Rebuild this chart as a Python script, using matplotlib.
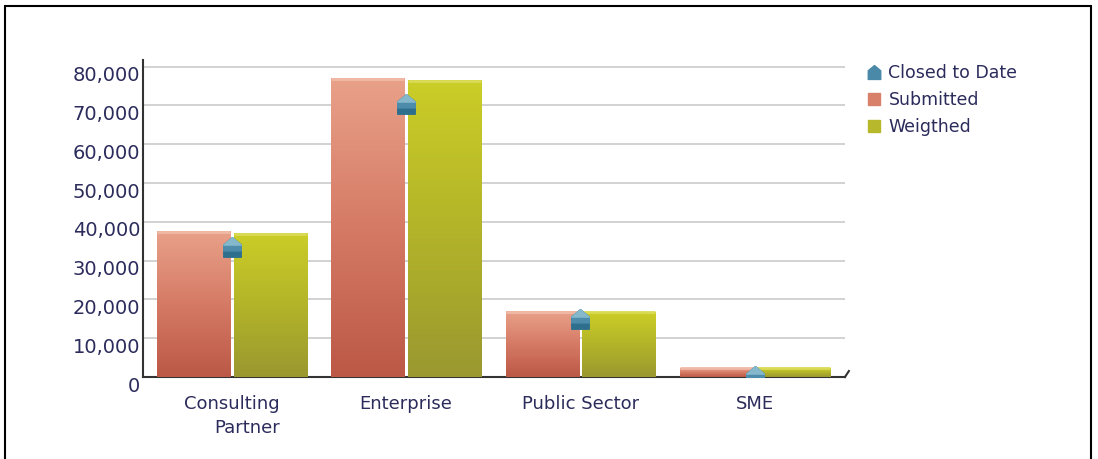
import numpy as np
import matplotlib
matplotlib.use("Agg")
import matplotlib.pyplot as plt
from matplotlib.colors import LinearSegmentedColormap
from matplotlib.lines import Line2D
from matplotlib.path import Path
from matplotlib.patches import Rectangle
import matplotlib.transforms as mtransforms

categories = ["Consulting\nPartner", "Enterprise", "Public Sector", "SME"]
submitted = [37400, 76900, 16800, 2300]
weighted = [36900, 76400, 16700, 2300]
closed_to_date = [33600, 70300, 15000, 200]

text_color = "#2b2b5c"
# house-shaped marker: dark body, mid band and a lighter roof on top
house = Path([(-0.9, -1), (0.9, -1), (0.9, 0.25), (0, 1), (-0.9, 0.25), (-0.9, -1)],
             [Path.MOVETO] + [Path.LINETO] * 4 + [Path.CLOSEPOLY])
band = Path([(-0.9, -0.35), (0.9, -0.35), (0.9, 0.25), (0, 1), (-0.9, 0.25), (-0.9, -0.35),
             (0, -1)],
            [Path.MOVETO] + [Path.LINETO] * 4 + [Path.CLOSEPOLY, Path.MOVETO])
roof = Path([(-0.9, 0.25), (0.9, 0.25), (0, 1), (-0.9, 0.25), (0, -1)],
            [Path.MOVETO, Path.LINETO, Path.LINETO, Path.CLOSEPOLY, Path.MOVETO])

fig = plt.figure(figsize=(10.98, 4.59), dpi=100)
ax = fig.add_axes([0.1302, 0.1786, 0.6393, 0.6906])

x = np.arange(len(categories))
width = 0.42
offset = 0.22

sub_bars = ax.bar(x - offset, submitted, width, color="#d9806a", zorder=2)
wgt_bars = ax.bar(x + offset, weighted, width, color="#b8b82c", zorder=2)

sub_cmap = LinearSegmentedColormap.from_list("sub", ["#bb5846", "#d57a65", "#e9a189"])
wgt_cmap = LinearSegmentedColormap.from_list("wgt", ["#9a9830", "#b3b429", "#cbcd27"])
grad = np.linspace(0, 1, 256).reshape(-1, 1)

for bars, cmap, cap in ((sub_bars, sub_cmap, "#f0b9a6"), (wgt_bars, wgt_cmap, "#d9da55")):
    for b in bars:
        x0, w, h = b.get_x(), b.get_width(), b.get_height()
        ax.imshow(grad, cmap=cmap, origin="lower", aspect="auto",
                  extent=[x0, x0 + w, 0, h], zorder=3)
        ax.plot([x0, x0 + w], [h, h], color=cap, lw=2, zorder=4,
                solid_capstyle="butt")

for path, col, z in ((house, "#2f6f8e", 5), (band, "#4d8dab", 6), (roof, "#86b8cc", 7)):
    ax.plot(x, closed_to_date, linestyle="none", marker=path, markersize=14,
            color=col, zorder=z)

ax.set_xlim(-0.51, 3.517)
ax.set_ylim(0, 81700)
ax.set_yticks(np.arange(0, 80001, 10000))
ax.set_yticklabels([f"{v:,}" for v in range(0, 80001, 10000)])
ax.set_xticks(x)
ax.set_xticklabels(categories, multialignment="right", linespacing=1.45)
ax.yaxis.grid(True, color="#d2d2d2", lw=1.4, zorder=0)
ax.set_axisbelow(True)

for side in ("top", "right"):
    ax.spines[side].set_visible(False)
for side in ("left", "bottom"):
    ax.spines[side].set_color("#333333")
    ax.spines[side].set_linewidth(1.5)
ax.plot([1, 1 + 4 / 702], [0, 6 / 317], transform=ax.transAxes,
        color="#333333", lw=1.5, clip_on=False)

ax.tick_params(axis="y", length=0, pad=2, labelsize=14, labelcolor=text_color)
ax.tick_params(axis="x", length=0, pad=13, labelsize=13, labelcolor=text_color)
shift = mtransforms.ScaledTranslation(0, -7 / 100, fig.dpi_scale_trans)
for lbl in ax.get_yticklabels():
    lbl.set_transform(lbl.get_transform() + shift)

handles = [
    Line2D([], [], linestyle="none", marker=house, markersize=10, color="#4a8aa8"),
    Line2D([], [], linestyle="none", marker="s", markersize=9, color="#d9806a"),
    Line2D([], [], linestyle="none", marker="s", markersize=9, color="#b8b82c"),
]
leg = fig.legend(handles, ["Closed to Date", "Submitted", "Weigthed"],
                 loc="upper left", bbox_to_anchor=(0.783, 0.875), frameon=False,
                 fontsize=12.5, handlelength=0.8, handletextpad=0.45,
                 labelspacing=0.5, borderaxespad=0)
for t in leg.get_texts():
    t.set_color(text_color)

fig.patches.append(Rectangle((5 / 1098, -0.05), 1086 / 1098, 1.05 - 6 / 459,
                             transform=fig.transFigure, fill=False,
                             edgecolor="black", lw=1.5))

fig.savefig("out.png", dpi=100)
